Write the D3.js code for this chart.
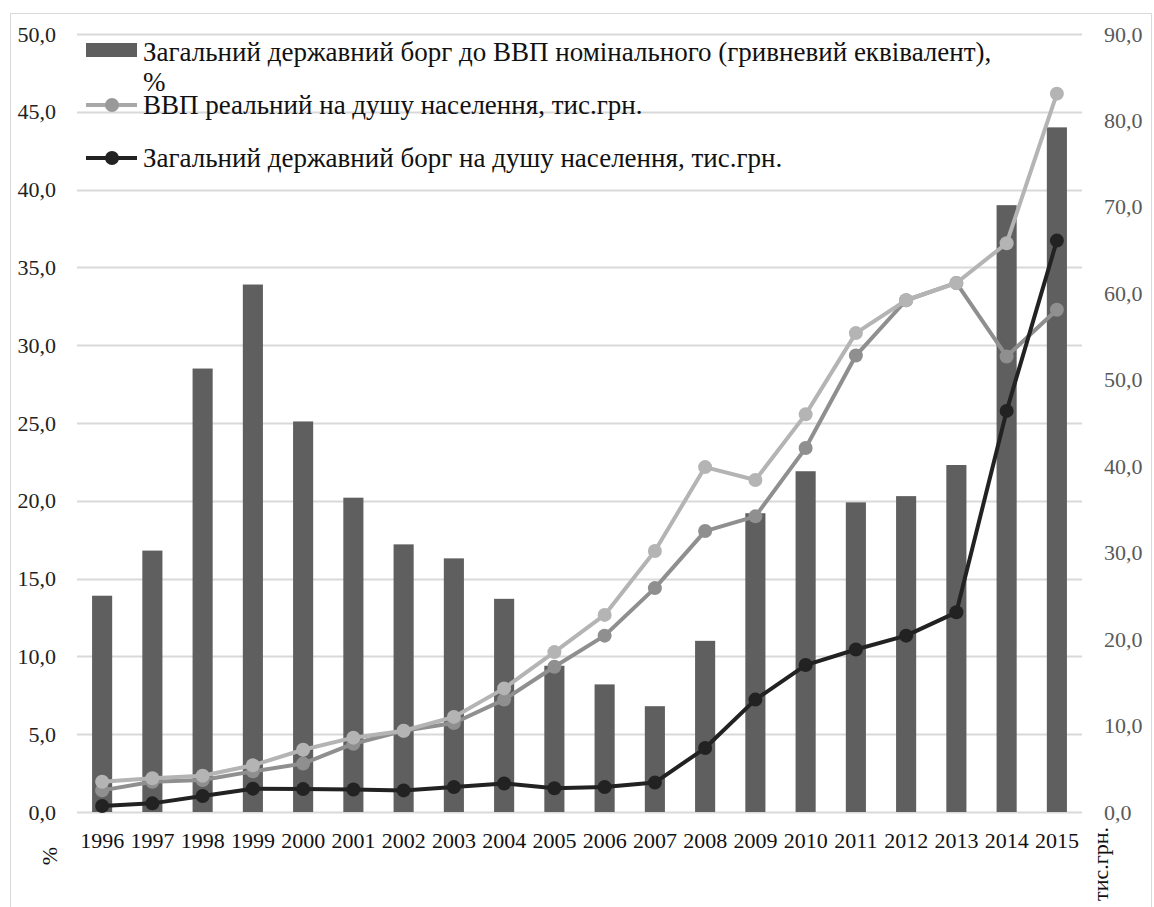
<!DOCTYPE html>
<html>
<head>
<meta charset="utf-8">
<script src="https://cdn.jsdelivr.net/npm/d3@7"></script>
<style>
  body { margin: 0; background: #fff; }
  text { font-family: "Liberation Serif", "Times New Roman", serif; }
</style>
</head>
<body>
<div id="content"></div>
<script>
// Data.
var years = ['1996', '1997', '1998', '1999', '2000', '2001', '2002', '2003', '2004', '2005',
             '2006', '2007', '2008', '2009', '2010', '2011', '2012', '2013', '2014', '2015'];
var debtToGdp = [13.9, 16.8, 28.5, 33.9, 25.1, 20.2, 17.2, 16.3, 13.7, 9.4,
                 8.2, 6.8, 11.0, 19.2, 21.9, 19.9, 20.3, 22.3, 39.0, 44.0];
var gdpLight = [3.5, 3.9, 4.2, 5.4, 7.2, 8.6, 9.4, 11.0, 14.3, 18.5,
                22.8, 30.2, 39.9, 38.4, 46.0, 55.4, 59.2, 61.2, 65.8, 83.1];
var gdpReal = [2.5, 3.5, 3.7, 4.7, 5.6, 7.9, 9.4, 10.3, 13.0, 16.8,
               20.4, 25.9, 32.5, 34.2, 42.1, 52.8, 59.2, 61.2, 52.7, 58.1];
var debtPerCapita = [0.7, 1.0, 1.85, 2.7, 2.65, 2.6, 2.5, 2.9, 3.3, 2.75,
                     2.9, 3.4, 7.4, 13.0, 17.0, 18.8, 20.4, 23.1, 46.4, 66.1];
var leftTicks = [0, 5, 10, 15, 20, 25, 30, 35, 40, 45, 50];
var rightTicks = [0, 10, 20, 30, 40, 50, 60, 70, 80, 90];
var legendLabels = ['Загальний державний борг до ВВП номінального (гривневий еквівалент),',
                    'ВВП реальний на душу населення, тис.грн.',
                    'Загальний державний борг на душу населення, тис.грн.'];

var W = 1154, H = 907;
var plot = {left: 77, right: 1082, top: 34, bottom: 812};
var serif = '"Liberation Serif", "Times New Roman", serif';

var svg = d3.select('#content').append('svg')
    .attr('width', W).attr('height', H);

// outer chart frame
svg.append('rect')
    .attr('x', 10.5).attr('y', 13.5)
    .attr('width', 1141).attr('height', 920)
    .attr('fill', 'none').attr('stroke', '#d9d9d9').attr('stroke-width', 1);

var x = d3.scaleBand().domain(years).range([plot.left, plot.right]).paddingInner(0.6).paddingOuter(0.3);
var xc = d3.scaleBand().domain(years).range([plot.left, plot.right]);
var yL = d3.scaleLinear().domain([0, 50]).range([plot.bottom, plot.top]);
var yR = d3.scaleLinear().domain([0, 90]).range([plot.bottom, plot.top]);

// gridlines
svg.append('g').selectAll('line')
    .data(leftTicks)
    .enter().append('line')
    .attr('x1', plot.left).attr('x2', plot.right)
    .attr('y1', function(d) { return Math.round(yL(d)) + 0.5; })
    .attr('y2', function(d) { return Math.round(yL(d)) + 0.5; })
    .attr('stroke', '#d9d9d9').attr('stroke-width', 2);

var fmt = function(d) { return d3.format('.1f')(d).replace('.', ','); };

// left axis labels
svg.append('g')
    .attr('transform', 'translate(56,0)')
    .call(d3.axisLeft(yL).tickValues(leftTicks).tickSize(0).tickPadding(0).tickFormat(fmt))
    .call(function(g) { g.select('.domain').remove(); })
    .selectAll('text')
    .attr('font-size', 22).attr('fill', '#222')
    .style('font-family', serif);

// right axis labels
svg.append('g')
    .attr('transform', 'translate(1104,0)')
    .call(d3.axisRight(yR).tickValues(rightTicks).tickSize(0).tickPadding(0).tickFormat(fmt))
    .call(function(g) { g.select('.domain').remove(); })
    .selectAll('text')
    .attr('font-size', 22).attr('fill', '#595959')
    .style('font-family', serif);

// x axis labels
svg.append('g')
    .attr('transform', 'translate(0,' + (plot.bottom + 20) + ')')
    .call(d3.axisBottom(xc).tickSize(0).tickPadding(0))
    .call(function(g) { g.select('.domain').remove(); })
    .selectAll('text')
    .attr('font-size', 22).attr('fill', '#111').attr('dy', '0.71em')
    .style('font-family', serif);

// axis titles
svg.append('text')
    .attr('transform', 'translate(57,856) rotate(-90)')
    .attr('text-anchor', 'middle')
    .attr('font-size', 22).attr('fill', '#111')
    .text('%');
svg.append('text')
    .attr('transform', 'translate(1108,864) rotate(-90)')
    .attr('text-anchor', 'middle')
    .attr('font-size', 22).attr('fill', '#111')
    .text('тис.грн.');

// bars
svg.append('g').selectAll('rect')
    .data(debtToGdp)
    .enter().append('rect')
    .attr('x', function(d, i) { return x(years[i]); })
    .attr('y', function(d) { return yL(d); })
    .attr('width', x.bandwidth())
    .attr('height', function(d) { return yL(0) - yL(d); })
    .attr('fill', '#5f5f5f');

// lines
function drawSeries(values, color) {
  var line = d3.line()
      .x(function(d, i) { return xc(years[i]) + xc.bandwidth() / 2; })
      .y(function(d) { return yR(d); });
  var g = svg.append('g');
  g.append('path')
      .datum(values)
      .attr('d', line)
      .attr('fill', 'none')
      .attr('stroke', color)
      .attr('stroke-width', 4)
      .attr('stroke-linejoin', 'round');
  g.selectAll('circle')
      .data(values)
      .enter().append('circle')
      .attr('cx', function(d, i) { return xc(years[i]) + xc.bandwidth() / 2; })
      .attr('cy', function(d) { return yR(d); })
      .attr('r', 7)
      .attr('fill', color);
}
drawSeries(gdpReal, '#8f8f8f');
drawSeries(gdpLight, '#b4b4b4');
drawSeries(debtPerCapita, '#222222');

// legend
var legend = svg.append('g');
legend.append('rect')
    .attr('x', 86).attr('y', 43).attr('width', 51).attr('height', 14)
    .attr('fill', '#5f5f5f');
legend.append('text')
    .attr('x', 143).attr('y', 61)
    .attr('font-size', 27).attr('fill', '#111')
    .text(legendLabels[0]);
legend.append('text')
    .attr('x', 143).attr('y', 91)
    .attr('font-size', 27).attr('fill', '#111')
    .text('%');

var legendLines = [
  {y: 105, line: '#a8a8a8', mark: '#999999', label: legendLabels[1]},
  {y: 158, line: '#222222', mark: '#222222', label: legendLabels[2]}
];
legendLines.forEach(function(l) {
  legend.append('line')
      .attr('x1', 86).attr('x2', 137)
      .attr('y1', l.y).attr('y2', l.y)
      .attr('stroke', l.line).attr('stroke-width', 4);
  legend.append('circle')
      .attr('cx', 112).attr('cy', l.y).attr('r', 7)
      .attr('fill', l.mark);
  legend.append('text')
      .attr('x', 143).attr('y', l.y + 9)
      .attr('font-size', 27).attr('fill', '#111')
      .text(l.label);
});
</script>
</body>
</html>
